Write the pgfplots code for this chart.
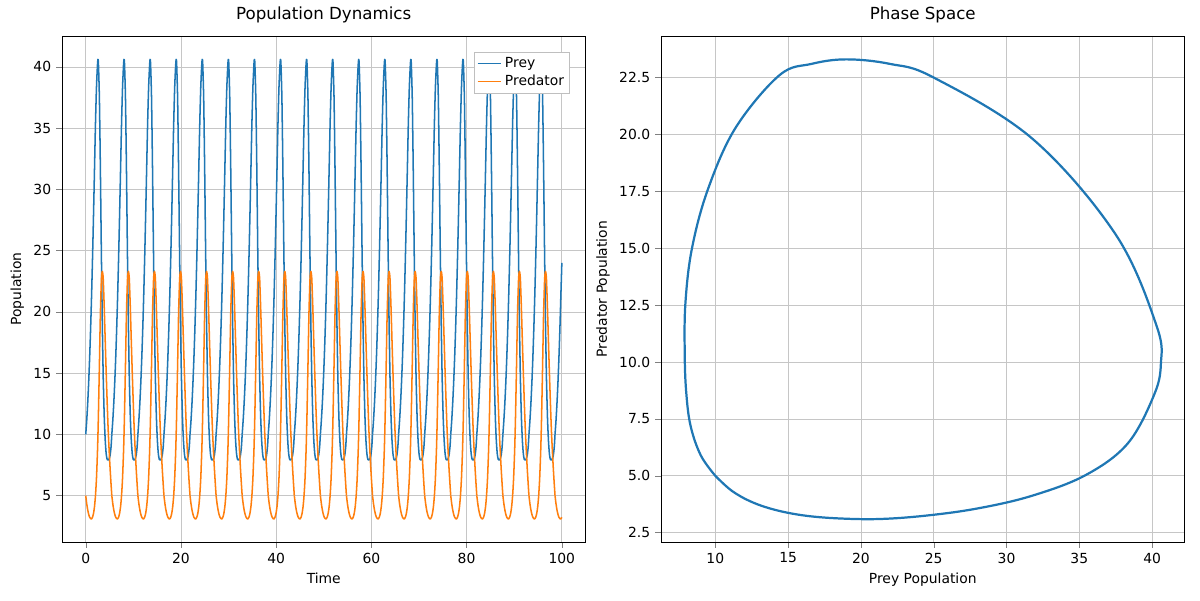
\documentclass[border=0pt]{standalone}
\usepackage{pgfplots}
\pgfplotsset{compat=1.18}
\usepackage{pgfplotstable}
\usepackage{fontspec}
\setmainfont{DejaVu Sans}
\definecolor{c0}{HTML}{1F77B4}
\definecolor{c1}{HTML}{FF7F0E}
\pgfplotstableread{
t x y
0.0 10.00 5.00
0.2 11.13 4.34
0.4 12.53 3.84
0.6 14.23 3.48
0.8 16.25 3.24
1.0 18.63 3.12
1.2 21.38 3.10
1.4 24.51 3.25
1.6 27.99 3.56
1.8 31.70 4.11
2.0 35.41 5.02
2.2 38.30 6.40
2.4 40.10 8.50
2.5 40.60 9.90
2.6 40.30 11.60
2.8 37.50 15.60
3.0 31.80 19.80
3.2 25.00 22.50
3.3 22.00 23.10
3.4 19.00 23.30
3.5 16.60 23.10
3.6 14.40 22.60
3.8 11.40 20.30
4.0 9.50 17.60
4.2 8.40 15.00
4.4 7.95 12.60
4.6 7.90 10.40
4.8 8.00 8.70
5.0 8.30 7.20
5.2 9.00 5.90
5.35 10.00 5.00
}\cyc
\pgfplotstableread{
t x y
0.0 10.00 5.00
0.2 11.13 4.34
0.4 12.53 3.84
0.6 14.23 3.48
0.8 16.25 3.24
1.0 18.63 3.12
1.2 21.38 3.10
1.4 24.00 3.23
}\part
\begin{document}
\begin{tikzpicture}[x=1pt,y=1pt]
\path (0,0) rectangle (864,432);
\pgfplotsset{every axis/.append style={scale only axis, width=377pt, height=364pt,
  grid=major, grid style={gray!45}, tick label style={font=\fontsize{10}{12}\selectfont},
  label style={font=\fontsize{10}{12}\selectfont}, title style={font=\fontsize{12}{14}\selectfont},
  /pgf/number format/assume math mode=true, tick align=outside, tick pos=left}}
\begin{axis}[at={(44.6pt,41.8pt)}, anchor=south west,
  xmin=-5, xmax=105, ymin=1.22, ymax=42.48,
  xtick={0,20,40,60,80,100}, ytick={5,10,...,40},
  title={Population Dynamics}, xlabel={Time}, ylabel={Population},
  legend pos=north east, legend cell align=left,
  legend style={font=\fontsize{10}{12}\selectfont, draw=gray!50, inner sep=2pt}]
\addlegendimage{color=c0, line width=1.1pt}\addlegendentry{Prey}
\addlegendimage{color=c1, line width=1.1pt}\addlegendentry{Predator}
\pgfplotsinvokeforeach{0,...,17}{
  \addplot[color=c0, line width=1.1pt, line join=round, smooth, tension=0.4, forget plot] table[x expr=\thisrow{t}*1.0237+#1*5.477, y=x]{\cyc};}
\addplot[color=c0, line width=1.1pt, line join=round, smooth, tension=0.4, forget plot] table[x expr=\thisrow{t}*1.0237+18*5.477, y=x]{\part};
\pgfplotsinvokeforeach{0,...,17}{
  \addplot[color=c1, line width=1.1pt, line join=round, smooth, tension=0.4, forget plot] table[x expr=\thisrow{t}*1.0237+#1*5.477, y=y]{\cyc};}
\addplot[color=c1, line width=1.1pt, line join=round, smooth, tension=0.4, forget plot] table[x expr=\thisrow{t}*1.0237+18*5.477, y=y]{\part};
\end{axis}
\begin{axis}[at={(475.9pt,41.8pt)}, anchor=south west,
  xmin=6.27, xmax=42.23, ymin=2.09, ymax=24.31,
  xtick={10,15,...,40}, ytick={2.5,5,...,22.5},
  yticklabel style={/pgf/number format/.cd, fixed, fixed zerofill, precision=1},
  title={Phase Space}, xlabel={Prey Population}, ylabel={Predator Population}]
\addplot[color=c0, line width=1.6pt, smooth, tension=0.6] table[x=x, y=y]{\cyc};
\end{axis}
\end{tikzpicture}
\end{document}
